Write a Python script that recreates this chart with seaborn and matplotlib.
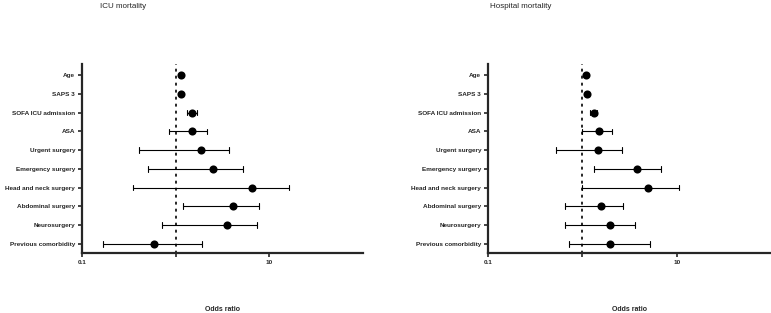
import pandas as pd
import matplotlib
matplotlib.use("Agg")
import matplotlib.pyplot as plt
import seaborn as sns

# odds ratios with 95% CI
labels = ["Age", "SAPS 3", "SOFA ICU admission", "ASA", "Urgent surgery",
          "Emergency surgery", "Head and neck surgery", "Abdominal surgery",
          "Neurosurgery", "Previous comorbidity"]

icu_or = [1.15, 1.14, 1.51, 1.48, 1.85, 2.53, 6.49, 4.05, 3.57, 0.585]
icu_lo = [1.12, 1.11, 1.33, 0.85, 0.41, 0.50, 0.35, 1.19, 0.71, 0.169]
icu_hi = [1.18, 1.17, 1.68, 2.18, 3.71, 5.25, 16.2, 7.78, 7.43, 1.90]

hosp_or = [1.10, 1.12, 1.32, 1.51, 1.46, 3.77, 4.98, 1.57, 1.97, 1.97]
hosp_lo = [1.07, 1.09, 1.21, 1.00, 0.52, 1.32, 0.99, 0.65, 0.66, 0.72]
hosp_hi = [1.13, 1.15, 1.43, 2.08, 2.62, 6.88, 10.7, 2.70, 3.59, 5.22]

titles = ["ICU mortality", "Hospital mortality"]
x_ticks = [0.1, 1, 10]
x_ticklabels = ["0.1", "", "10"]

sns.set_style("ticks")
plt.rcParams["font.family"] = ["Liberation Sans", "DejaVu Sans"]


def long_table(lo, mid, hi):
    # three rows per label: median = OR, min/max = CI bounds
    rows = []
    for lab, a, b, c in zip(labels, lo, mid, hi):
        rows += [(lab, a), (lab, b), (lab, c)]
    return pd.DataFrame(rows, columns=["label", "value"])


fig = plt.figure(figsize=(7.71, 3.13), dpi=100)
ax1 = fig.add_axes([0.1064, 0.1927, 0.3645, 0.6028])
ax2 = fig.add_axes([0.633, 0.1927, 0.367, 0.6028])

panels = [(ax1, long_table(icu_lo, icu_or, icu_hi)),
          (ax2, long_table(hosp_lo, hosp_or, hosp_hi))]

for (ax, d), title, tx in zip(panels, titles, [100, 490]):
    sns.pointplot(data=d, x="value", y="label", order=labels,
                  estimator="median", errorbar=("pi", 100), log_scale=True,
                  color="black", linestyle="none", marker="o", markersize=3.8,
                  capsize=0.3, err_kws={"linewidth": 0.8}, ax=ax)
    ax.axvline(1, color="black", lw=1.2, ls=(0, (1, 3.2)), dash_capstyle="round", zorder=0)
    ax.set_xlim(0.1, 100)
    ax.set_ylim(9.48, -0.6)
    ax.set_xticks(x_ticks)
    ax.set_xticklabels(x_ticklabels)
    ax.xaxis.set_minor_locator(matplotlib.ticker.NullLocator())
    ax.tick_params(axis="both", length=3, width=1.2, pad=2, labelsize=4.6)
    for t in ax.get_xticklabels() + ax.get_yticklabels():
        t.set_fontweight("bold")
    for s in ["left", "bottom"]:
        ax.spines[s].set_linewidth(1.6)
    sns.despine(ax=ax)
    ax.set_ylabel("")
    ax.set_xlabel("Odds ratio", fontsize=5, fontweight="bold", labelpad=30)
    fig.text(tx / 771, 1 - 6 / 313, title, fontsize=5.8, ha="left", va="center")

plt.savefig("out.png", dpi=100)
